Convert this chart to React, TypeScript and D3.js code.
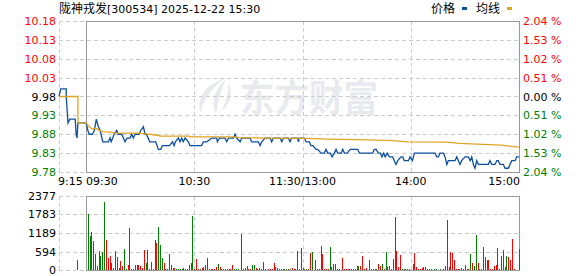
import React from "react";
import * as d3 from "d3";

const W = 578;
const H = 276;

const stockName = "陇神戎发";
const stockInfo = "[300534] 2025-12-22 15:30";
const prevClose = 9.98;
const priceTicks = [10.18, 10.13, 10.08, 10.03, 9.98, 9.93, 9.88, 9.83, 9.78];
const pctLabels = ["2.04", "1.53", "1.02", "0.51", "0.00", "0.51", "1.02", "1.53", "2.04"];
const volTicks = [2377, 1783, 1189, 594, 0];
const timeTicks = [-15, 0, 60, 120, 180, 240];
const timeLabels = ["9:15", "09:30", "10:30", "11:30/13:00", "14:00", "15:00"];

// minutes relative to 09:30 (pre-market negative)
const preMarket: [number, number][] = [
  [-15, 9.98], [-14, 10.0], [-11, 10.0], [-11, 9.98], [-10, 9.91], [-9, 9.92], [-6, 9.92],
  [-5.5, 9.88], [-5, 9.87], [-4.5, 9.91], [0, 9.91],
];
const preAvg: [number, number][] = [[-15, 9.98], [-4.5, 9.98], [-4.5, 9.91], [0, 9.91]];

const priceLine: [number, number][] = [
  [0, 9.91], [1, 9.89], [1.8, 9.88], [3.5, 9.88], [4.6, 9.89], [5.7, 9.92], [6.8, 9.9], [7.8, 9.89],
  [9.3, 9.86], [12.4, 9.86], [13.3, 9.87], [13.9, 9.86], [14.8, 9.87], [15.5, 9.88], [17, 9.89],
  [17.8, 9.88], [19.8, 9.88], [21.6, 9.86], [22.7, 9.87], [24.4, 9.87], [25.3, 9.88], [26.2, 9.87],
  [27.2, 9.88], [29.4, 9.88], [30.3, 9.89], [31.8, 9.9], [32.7, 9.88], [33.5, 9.88], [35.3, 9.86],
  [38.6, 9.86], [40.1, 9.84], [41.4, 9.84], [42.3, 9.85], [46.3, 9.85], [47.9, 9.86], [48.8, 9.85],
  [49.5, 9.86], [51.2, 9.87], [52.1, 9.86], [53, 9.87], [53.9, 9.86], [54.9, 9.87], [56.7, 9.86],
  [57.6, 9.85], [64.1, 9.85], [65, 9.86], [66.9, 9.86], [69.7, 9.87], [72.4, 9.87], [72.8, 9.86],
  [73.9, 9.87], [77, 9.87], [78, 9.86], [78.9, 9.87], [81.7, 9.87], [82.6, 9.88], [83.5, 9.87],
  [85.4, 9.86], [86.3, 9.87], [90.9, 9.87], [91.8, 9.86], [95.5, 9.86], [96.5, 9.85], [97.4, 9.86],
  [99.2, 9.87], [102, 9.87], [102.9, 9.86], [103.8, 9.87], [107.5, 9.87], [108.5, 9.86], [109.4, 9.87],
  [112.1, 9.87], [113.1, 9.86], [114, 9.87], [117.3, 9.87], [117.7, 9.86], [118.2, 9.87], [121, 9.87],
  [122, 9.86], [123.8, 9.86], [124.7, 9.85], [125.7, 9.85], [127.5, 9.84], [128.4, 9.84], [130.3, 9.83],
  [132.1, 9.83], [133, 9.84], [134, 9.83], [135.4, 9.83], [136.4, 9.82], [137.6, 9.83], [138.6, 9.84],
  [139.5, 9.83], [141.4, 9.83], [142.3, 9.84], [143.2, 9.83], [144.7, 9.83], [146.5, 9.84], [150.6, 9.84],
  [151.5, 9.83], [158.9, 9.83], [159.8, 9.84], [160.8, 9.84], [162, 9.83], [163.2, 9.83], [164, 9.82],
  [165, 9.83], [165.8, 9.82], [166.9, 9.83], [168.1, 9.82], [170, 9.82], [170.9, 9.81], [171.8, 9.8],
  [172.8, 9.81], [174.6, 9.82], [175.6, 9.82], [176.4, 9.81], [178.7, 9.81], [179.6, 9.82], [180.9, 9.81],
  [182, 9.83], [193.5, 9.83], [194.4, 9.82], [195.3, 9.82], [196.2, 9.83], [198.1, 9.83], [199, 9.82],
  [200, 9.8], [200.8, 9.81], [204.5, 9.81], [205.5, 9.82], [206.4, 9.81], [207.3, 9.8], [208.2, 9.81],
  [210.1, 9.82], [211.9, 9.82], [212.9, 9.81], [213.8, 9.82], [214.7, 9.8], [215.6, 9.79], [216.6, 9.81],
  [217.5, 9.8], [223, 9.8], [223.9, 9.81], [224.9, 9.8], [226.7, 9.8], [227.7, 9.81], [228.5, 9.81],
  [229.5, 9.8], [231.3, 9.8], [232.3, 9.79], [234.1, 9.79], [235, 9.8], [236, 9.81], [237.8, 9.81],
  [238.7, 9.82], [240, 9.82],
];

const avgLine: [number, number][] = [
  [0, 9.91], [0.7, 9.906], [1.7, 9.9], [3.5, 9.894], [5.4, 9.896], [7.2, 9.891], [9, 9.887],
  [14.6, 9.885], [16.5, 9.883], [29.4, 9.883], [33.1, 9.881], [38.6, 9.878], [41.4, 9.875], [57, 9.875],
  [58, 9.873], [82, 9.873], [85, 9.871], [100, 9.87], [122, 9.869], [134, 9.867], [156, 9.865],
  [170, 9.863], [178, 9.86], [200, 9.859], [207, 9.856], [220, 9.853], [230, 9.851], [236, 9.848],
  [240, 9.846],
];

// [minute, volume, up(1 red)/down(0 green)]
const volumes: [number, number, number][] = [
  [-5, 320, 0],
  [1, 1790, 0], [2, 1090, 0], [3, 1220, 1], [4, 930, 1], [5, 510, 1], [6, 130, 1], [7, 600, 0], [8, 450, 0],
  [9, 580, 0], [10, 2180, 0], [11, 960, 1], [12, 390, 1], [13, 450, 1], [14, 235, 0], [15, 60, 1], [16, 620, 1],
  [17, 430, 1], [18, 60, 0], [19, 290, 1], [20, 130, 1], [21, 670, 0], [22, 20, 0], [23, 150, 1], [24, 1350, 1],
  [25, 30, 0], [26, 30, 1], [27, 160, 1], [28, 160, 1], [29, 160, 1], [30, 130, 1], [31, 60, 1], [32, 640, 1],
  [33, 235, 0], [34, 640, 1], [35, 30, 0], [36, 260, 0], [37, 40, 1], [38, 960, 1], [39, 860, 1], [40, 1380, 0],
  [41, 800, 0], [42, 390, 0], [43, 235, 1], [44, 30, 1], [45, 40, 1], [46, 510, 1], [47, 150, 1], [48, 60, 1],
  [49, 60, 1], [50, 30, 0], [51, 30, 0], [52, 30, 0], [53, 20, 0], [54, 80, 0], [55, 30, 1], [56, 40, 1],
  [57, 160, 0], [58, 235, 1], [59, 1730, 0], [60, 20, 1], [61, 350, 1], [62, 30, 1], [63, 30, 0], [64, 60, 1],
  [65, 100, 1], [66, 150, 1], [67, 390, 1], [68, 40, 1], [69, 30, 1], [70, 30, 1], [71, 30, 1], [72, 110, 1],
  [73, 190, 0], [74, 100, 1], [75, 40, 1], [76, 30, 0], [77, 40, 1], [78, 30, 0], [79, 30, 1], [80, 30, 1],
  [81, 170, 1], [82, 30, 0], [83, 30, 0], [84, 30, 0], [86, 1170, 0], [87, 30, 1], [88, 60, 1], [89, 130, 1],
  [90, 40, 1], [91, 40, 1], [92, 150, 0], [93, 150, 0], [94, 75, 1], [95, 40, 1], [96, 80, 0], [97, 40, 0],
  [98, 260, 1], [99, 30, 1], [101, 30, 1], [102, 30, 1], [103, 30, 1], [104, 235, 1], [105, 100, 1], [106, 80, 1],
  [107, 30, 1], [108, 30, 1], [109, 30, 0], [110, 30, 0], [111, 30, 0], [112, 30, 1], [113, 20, 0], [114, 60, 1],
  [115, 30, 1], [116, 30, 0], [117, 610, 0], [118, 30, 1], [119, 700, 1], [120, 60, 1], [121, 30, 0], [122, 30, 1],
  [123, 30, 0], [124, 540, 1], [125, 580, 0], [127, 320, 1], [128, 30, 0], [129, 30, 0], [130, 770, 0],
  [131, 510, 1], [132, 30, 1], [133, 30, 1], [134, 30, 1], [135, 740, 0], [136, 90, 0], [137, 190, 1],
  [138, 190, 1], [139, 30, 0], [140, 30, 0], [142, 390, 1], [143, 30, 1], [144, 30, 1], [145, 30, 1],
  [146, 30, 1], [147, 30, 0], [148, 30, 1], [149, 30, 0], [150, 130, 1], [151, 130, 0], [152, 130, 1],
  [153, 450, 1], [154, 30, 1], [155, 60, 1], [157, 320, 1], [158, 30, 1], [159, 30, 0], [160, 30, 1],
  [161, 30, 0], [162, 190, 1], [163, 130, 1], [164, 190, 0], [165, 30, 1], [166, 580, 0], [167, 90, 0],
  [168, 130, 1], [169, 30, 1], [170, 350, 0], [171, 1700, 0], [172, 610, 1], [173, 90, 1], [174, 480, 1],
  [175, 30, 0], [176, 30, 0], [177, 30, 0], [178, 30, 1], [179, 30, 1], [181, 190, 0], [182, 540, 1],
  [183, 90, 1], [184, 30, 1], [185, 30, 1], [186, 50, 1], [187, 90, 1], [188, 90, 1], [189, 30, 1],
  [190, 30, 1], [191, 30, 1], [193, 30, 0], [194, 30, 0], [196, 30, 0], [198, 30, 0], [199, 130, 0],
  [200, 1600, 0], [201, 90, 1], [202, 580, 1], [203, 540, 1], [204, 320, 1], [205, 30, 1], [206, 30, 1],
  [207, 30, 0], [208, 60, 1], [209, 30, 1], [210, 160, 1], [211, 30, 1], [212, 30, 1], [213, 510, 0],
  [214, 230, 1], [215, 130, 0], [216, 1120, 0], [217, 230, 1], [218, 30, 1], [219, 30, 1], [220, 740, 1],
  [221, 420, 1], [222, 320, 1], [223, 320, 1], [224, 30, 1], [225, 30, 1], [226, 130, 1], [227, 160, 1],
  [228, 700, 1], [229, 30, 1], [230, 450, 0], [231, 640, 1], [232, 90, 1], [233, 450, 0], [234, 420, 1],
  [235, 320, 1], [236, 990, 1], [237, 30, 1], [240, 670, 1],
];

const GRID = "#cccccc";
const BORDER = "#999999";
const BLUE = "#0d4f9e";
const ORANGE = "#e0a422";
const RED = "#ff0000";
const GREEN = "#008000";
const NUM_FONT = "'DejaVu Sans', Verdana, sans-serif";
const CJK_FONT = "'Noto Sans CJK SC', sans-serif";

export default function App() {
  const left = 59;
  const boxLeft = 86;
  const right = 519;
  const pTop = 21;
  const pBottom = 172;
  const vTop = 196;
  const vBottom = 270;

  const x = d3.scaleLinear().domain([-15, 240]).range([left, right]);
  const y = d3.scaleLinear().domain([9.78, 10.18]).range([pBottom, pTop]);
  const yv = d3.scaleLinear().domain([0, 2377]).range([vBottom, vTop]);

  const line = d3
    .line<[number, number]>()
    .x((d) => x(d[0]))
    .y((d) => y(d[1]));

  const px = (v: number) => Math.round(v) + 0.5;
  const labelColor = (p: number) => (Math.abs(p - prevClose) < 1e-6 ? "#000" : p > prevClose ? RED : GREEN);
  const vGrid = timeTicks.slice(2, 5);

  const panelGrid = (top: number, bottom: number, ys: number[], key: string) => (
    <g key={key}>
      {ys.map((yy, i) => (
        <line key={"h" + i} x1={left} x2={right} y1={px(yy)} y2={px(yy)} stroke={GRID} strokeDasharray="4,3" />
      ))}
      <line x1={left} x2={boxLeft} y1={px(top)} y2={px(top)} stroke={GRID} strokeDasharray="4,3" />
      <line x1={left} x2={boxLeft} y1={px(bottom)} y2={px(bottom)} stroke={GRID} strokeDasharray="4,3" />
      <line x1={px(left)} x2={px(left)} y1={top} y2={bottom} stroke={GRID} strokeDasharray="4,3" />
      {vGrid.map((t, i) => (
        <line key={"v" + i} x1={px(x(t))} x2={px(x(t))} y1={top} y2={bottom} stroke={GRID} strokeDasharray="4,3" />
      ))}
      <rect x={px(boxLeft)} y={px(top)} width={Math.round(right - boxLeft)} height={Math.round(bottom - top)} fill="none" stroke={BORDER} />
    </g>
  );

  return (
    <svg width={W} height={H} style={{ position: "absolute", left: 0, top: 0, background: "#fff" }}>
      <rect x={0} y={0} width={W} height={H} fill="#fff" />
      {/* title */}
      <text x={left} y={13} fontSize={12} fill="#000">
        <tspan fontFamily={CJK_FONT}>{stockName}</tspan>
        <tspan fontFamily={NUM_FONT} fontSize={11}>{stockInfo}</tspan>
      </text>
      {/* legend */}
      <text x={431} y={13} fontSize={12} fontFamily={CJK_FONT} fill="#000">价格</text>
      <rect x={462} y={7} width={5} height={3} fill={BLUE} />
      <text x={476} y={13} fontSize={12} fontFamily={CJK_FONT} fill="#000">均线</text>
      <rect x={507} y={7} width={5} height={3} fill={ORANGE} />

      {/* watermark */}
      <g fill="#e9eaee">
        <path d="M 226 78 C 206 84 195 98 201 113 C 203 100 211 88 226 78 Z" />
        <path d="M 226 79 C 214 90 211 103 216 114 C 218 101 221 90 226 79 Z" />
        <path d="M 228 82 C 234 92 231 103 222 111 C 226 100 229 91 228 82 Z" />
        <text x={240} y={112} fontSize={37} fontWeight="bold" fontFamily={CJK_FONT} textLength={138} lengthAdjust="spacingAndGlyphs">东方财富</text>
      </g>

      {panelGrid(pTop, pBottom, priceTicks.slice(1, -1).map((p) => y(p)), "pg")}
      {panelGrid(vTop, vBottom, volTicks.slice(1, -1).map((v) => yv(v)), "vg")}

      {/* price axis labels */}
      {priceTicks.map((p, i) => (
        <text key={"pl" + i} x={56} y={y(p) + 4} textAnchor="end" fontSize={11} fontFamily={NUM_FONT} fill={labelColor(p)}>
          {p.toFixed(2)}
        </text>
      ))}
      {priceTicks.map((p, i) => (
        <text key={"pr" + i} x={523} y={y(p) + 4} fontSize={11} fontFamily={NUM_FONT} fill={labelColor(p)}>
          {pctLabels[i]} %
        </text>
      ))}
      {/* volume labels */}
      {volTicks.map((v, i) => (
        <text key={"vl" + i} x={56} y={yv(v) + 4} textAnchor="end" fontSize={11} fontFamily={NUM_FONT} fill="#000">
          {v}
        </text>
      ))}
      {/* time labels */}
      {timeTicks.map((t, i) => (
        <text
          key={"tl" + i}
          x={i === 0 ? x(t) - 1 : i === 1 ? x(t) : i === timeTicks.length - 1 ? x(t) + 1 : x(t)}
          y={185}
          textAnchor={i <= 1 ? "start" : i === timeTicks.length - 1 ? "end" : "middle"}
          fontSize={11}
          fontFamily={NUM_FONT}
          fill="#000"
        >
          {timeLabels[i]}
        </text>
      ))}

      {/* volume bars */}
      {volumes.map((d, i) => (
        <rect
          key={"vb" + i}
          x={Math.round(x(d[0]))}
          y={yv(d[1])}
          width={1}
          height={vBottom - yv(d[1])}
          fill={d[2] ? RED : GREEN}
          shapeRendering="crispEdges"
        />
      ))}

      {/* price lines */}
      <path d={line(preMarket) || ""} fill="none" stroke={BLUE} strokeWidth={1.3} />
      <path d={line(priceLine) || ""} fill="none" stroke={BLUE} strokeWidth={1.3} />
      <path d={line(preAvg) || ""} fill="none" stroke={ORANGE} strokeWidth={1.3} />
      <path d={line(avgLine) || ""} fill="none" stroke={ORANGE} strokeWidth={1.3} />
    </svg>
  );
}
